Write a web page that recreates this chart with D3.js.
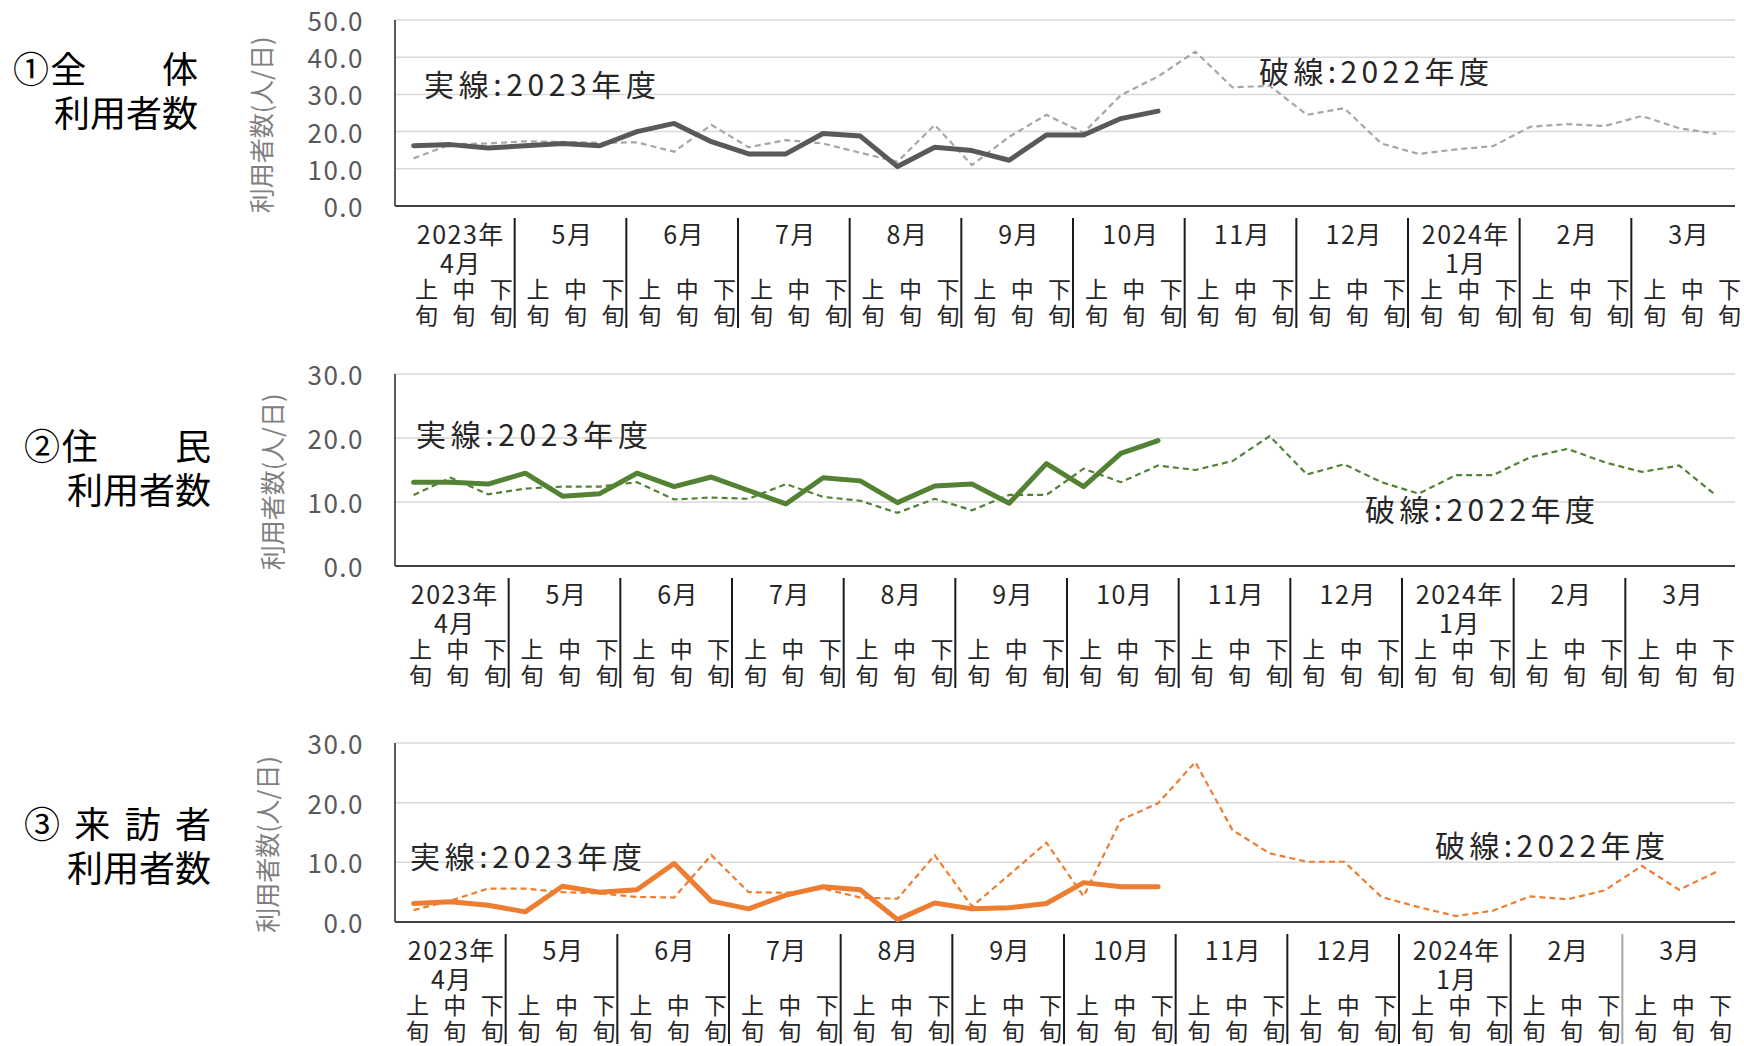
<!DOCTYPE html>
<html>
<head>
<meta charset="utf-8">
<script src="https://cdn.jsdelivr.net/npm/d3@7"></script>
<style>
  body { margin: 0; background: #fff; }
  text { font-family: "Noto Sans CJK JP", "Noto Sans", sans-serif; }
</style>
</head>
<body>
<div id="chart"></div>
<script>
// ---- data ----
const monthLabels = [["2023年", "4月"], ["5月"], ["6月"], ["7月"], ["8月"], ["9月"],
  ["10月"], ["11月"], ["12月"], ["2024年", "1月"], ["2月"], ["3月"]];
const junLabels = ["上", "中", "下"];

// ① 全体利用者数 (人/日)
const zentai2023 = [16.2, 16.5, 15.6, 16.2, 16.8, 16.2, 20.0, 22.2, 17.3, 14.0, 14.0,
  19.5, 18.8, 10.6, 15.8, 14.9, 12.3, 19.1, 19.1, 23.5, 25.5];
const zentai2022 = [12.8, 16.6, 16.8, 17.4, 17.2, 17.0, 17.1, 14.6, 21.8, 15.8, 17.7,
  16.8, 14.3, 11.9, 21.8, 11.0, 18.6, 24.5, 19.7, 29.8, 34.8, 41.5, 31.9, 32.3,
  24.5, 26.3, 16.8, 14.0, 15.2, 16.1, 21.3, 22.0, 21.5, 24.2, 20.9, 19.4];

// ② 住民利用者数
const jumin2023 = [13.1, 13.1, 12.8, 14.5, 10.9, 11.3, 14.5, 12.4, 13.9, 11.8, 9.7,
  13.8, 13.3, 9.9, 12.5, 12.8, 9.8, 16.0, 12.4, 17.6, 19.6];
const jumin2022 = [11.1, 13.8, 11.2, 12.1, 12.4, 12.4, 13.1, 10.4, 10.7, 10.5, 12.8,
  10.8, 10.2, 8.3, 10.5, 8.7, 11.1, 11.1, 15.2, 13.1, 15.7, 15.0, 16.4, 20.3,
  14.3, 15.9, 13.1, 11.3, 14.2, 14.2, 17.0, 18.3, 16.2, 14.7, 15.7, 11.0];

// ③ 来訪者利用者数
const raihou2023 = [3.1, 3.4, 2.8, 1.7, 6.0, 5.0, 5.4, 9.8, 3.5, 2.2, 4.5,
  5.9, 5.4, 0.4, 3.2, 2.2, 2.4, 3.1, 6.6, 5.9, 5.9];
const raihou2022 = [2.0, 3.6, 5.6, 5.6, 5.0, 4.8, 4.2, 4.1, 11.2, 5.0, 4.9,
  5.6, 4.1, 3.9, 11.2, 2.6, 7.9, 13.3, 4.3, 17.1, 19.9, 26.8, 15.4, 11.5,
  10.1, 10.1, 4.2, 2.5, 1.0, 1.9, 4.3, 3.8, 5.3, 9.4, 5.4, 8.4];

const ticks50 = [0, 10, 20, 30, 40, 50];
const ticks30 = [0, 10, 20, 30];

const solidLabel = "実線:2023年度";
const dashLabel = "破線:2022年度";
const yTitle = "利用者数(人/日)";

// ---- layout ----
const width = 1744, height = 1046;
const left = 395, right = 1735;

const panels = [
  { title: ["①全　　体", "利用者数"], cur: zentai2023, prev: zentai2022, ticks: ticks50,
    top: 20, bottom: 206, solid: "#595959", dashed: "#a6a6a6",
    titleX: [13, 198], titleY: 73, yTitleX: 264, tableOff: 8,
    solidPos: [424, 88], dashPos: [1259, 75] },
  { title: ["②住　　民", "利用者数"], cur: jumin2023, prev: jumin2022, ticks: ticks30,
    top: 374, bottom: 566, solid: "#548235", dashed: "#548235",
    titleX: [24, 211], titleY: 450, yTitleX: 275, tableOff: 2,
    solidPos: [416, 438], dashPos: [1365, 513] },
  { title: ["③ 来 訪 者", "利用者数"], cur: raihou2023, prev: raihou2022, ticks: ticks30,
    top: 743, bottom: 922, solid: "#ed7d31", dashed: "#ed7d31",
    titleX: [24, 211], titleY: 828, yTitleX: 270, tableOff: -1,
    solidPos: [410, 860], dashPos: [1435, 849] }
];

const svg = d3.select("#chart").append("svg")
  .attr("width", width)
  .attr("height", height);

const x = d3.scaleBand().domain(d3.range(36)).range([left, right]);
const cx = i => x(i) + x.bandwidth() / 2;

panels.forEach((p, pi) => {
  const y = d3.scaleLinear()
    .domain([0, d3.max(p.ticks)])
    .range([p.bottom, p.top]);
  const g = svg.append("g");

  // gridlines
  g.append("g")
    .selectAll("line")
    .data(p.ticks.filter(t => t > 0))
    .join("line")
    .attr("x1", left).attr("x2", right)
    .attr("y1", d => y(d)).attr("y2", d => y(d))
    .attr("stroke", "#d9d9d9")
    .attr("stroke-width", 1.5);

  // y axis: tick labels only, plus a plain line
  const yAxis = g.append("g")
    .attr("transform", `translate(${left - 28},0)`)
    .call(d3.axisLeft(y).tickValues(p.ticks).tickFormat(d3.format(".1f")).tickSize(0));
  yAxis.select(".domain").remove();
  yAxis.selectAll("text")
    .attr("font-size", 26)
    .attr("fill", "#595959")
    .attr("letter-spacing", 1.5)
    .attr("dy", "0.4em")
    .attr("font-family", "'Noto Sans CJK JP', sans-serif");

  g.append("line")
    .attr("x1", left).attr("x2", left)
    .attr("y1", p.top).attr("y2", p.bottom)
    .attr("stroke", "#262626").attr("stroke-width", 1.5);
  g.append("line")
    .attr("x1", left).attr("x2", right)
    .attr("y1", p.bottom).attr("y2", p.bottom)
    .attr("stroke", "#404040").attr("stroke-width", 2);

  // y axis title
  g.append("text")
    .attr("transform", `translate(${p.yTitleX},${(p.top + p.bottom) / 2 + 12}) rotate(-90)`)
    .attr("text-anchor", "middle")
    .attr("dominant-baseline", "middle")
    .attr("font-size", 25)
    .attr("fill", "#7f7f7f")
    .text(yTitle);

  // lines
  const line = d3.line().x((d, i) => cx(i)).y(d => y(d));
  g.append("path")
    .attr("d", line(p.prev))
    .attr("fill", "none")
    .attr("stroke", p.dashed)
    .attr("stroke-width", 2.2)
    .attr("stroke-dasharray", "6,4");
  g.append("path")
    .attr("d", line(p.cur))
    .attr("fill", "none")
    .attr("stroke", p.solid)
    .attr("stroke-width", 5)
    .attr("stroke-linejoin", "round")
    .attr("stroke-linecap", "round");

  // annotations
  g.append("text")
    .attr("x", p.solidPos[0]).attr("y", p.solidPos[1])
    .attr("dominant-baseline", "middle")
    .attr("font-size", 30)
    .attr("fill", "#262626")
    .attr("textLength", 232)
    .text(solidLabel);
  g.append("text")
    .attr("x", p.dashPos[0]).attr("y", p.dashPos[1])
    .attr("dominant-baseline", "middle")
    .attr("font-size", 30)
    .attr("fill", "#262626")
    .attr("textLength", 230)
    .text(dashLabel);

  // left title, two lines in one text
  const tt = g.append("text")
    .attr("y", p.titleY)
    .attr("dominant-baseline", "middle")
    .attr("font-size", 36)
    .attr("fill", "#000");
  tt.append("tspan")
    .attr("x", p.titleX[0])
    .attr("textLength", p.titleX[1] - p.titleX[0])
    .attr("lengthAdjust", "spacing")
    .text(p.title[0]);
  tt.append("tspan")
    .attr("x", p.titleX[1])
    .attr("dy", 44)
    .attr("text-anchor", "end")
    .text(p.title[1]);

  // month / 旬 table under the axis
  const m = d3.scaleBand().domain(d3.range(12))
    .range([left + p.tableOff, right + p.tableOff]);
  const tg = g.append("g");
  tg.selectAll("line")
    .data(d3.range(1, 12))
    .join("line")
    .attr("x1", d => m(d)).attr("x2", d => m(d))
    .attr("y1", p.bottom + 12).attr("y2", p.bottom + 122)
    .attr("stroke", d => (pi === 2 && d === 11) ? "#a6a6a6" : "#1a1a1a")
    .attr("stroke-width", 2);

  const months = tg.selectAll("g.month")
    .data(monthLabels)
    .join("g")
    .attr("class", "month")
    .attr("transform", (d, i) => `translate(${m(i)},0)`);
  months.append("text")
    .attr("y", p.bottom + 31)
    .attr("text-anchor", "middle")
    .attr("dominant-baseline", "middle")
    .attr("font-size", 25)
    .attr("letter-spacing", 1.5)
    .attr("fill", "#262626")
    .selectAll("tspan")
    .data(d => d)
    .join("tspan")
    .attr("x", m.bandwidth() / 2 + 2)
    .attr("dy", (d, i) => i ? 29 : 0)
    .text(d => d);
  const jun = months.selectAll("text.jun")
    .data(junLabels)
    .join("text")
    .attr("class", "jun")
    .attr("y", p.bottom + 86)
    .attr("text-anchor", "middle")
    .attr("dominant-baseline", "middle")
    .attr("font-size", 23)
    .attr("fill", "#262626");
  jun.append("tspan")
    .attr("x", (d, i) => m.bandwidth() * (0.21 + i * 0.335))
    .text(d => d);
  jun.append("tspan")
    .attr("x", (d, i) => m.bandwidth() * (0.21 + i * 0.335))
    .attr("dy", 26)
    .text("旬");
});
</script>
</body>
</html>
